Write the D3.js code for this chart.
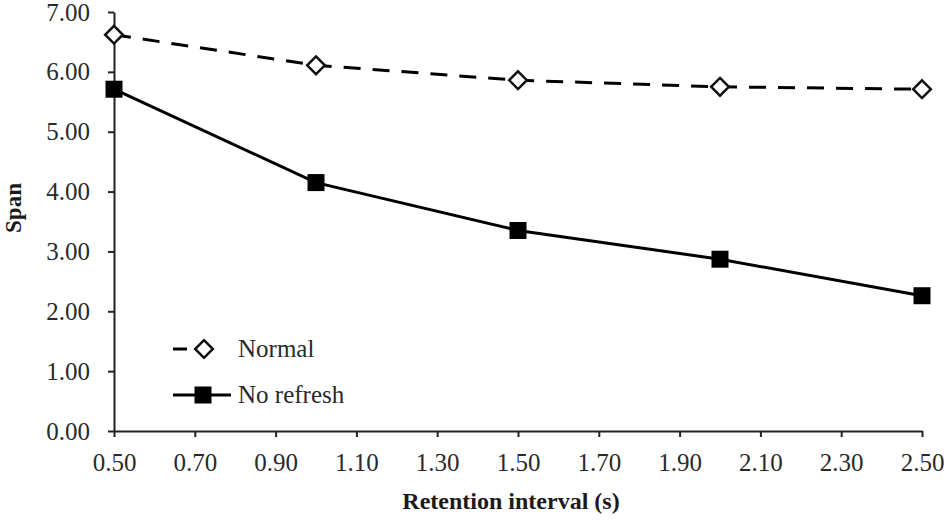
<!DOCTYPE html>
<html>
<head>
<meta charset="utf-8">
<script src="https://cdn.jsdelivr.net/npm/d3@7"></script>
<style>
  body { margin: 0; background: #fff; }
  .axis text { font-family: "Liberation Serif", "Times New Roman", serif; font-size: 25px; fill: #2a2a2a; }
  .axis path, .axis line { stroke: #222; stroke-width: 2px; }
</style>
</head>
<body>
<div id="chart"></div>
<script>
const retention = [0.5, 1.0, 1.5, 2.0, 2.5];
const normalSpan = [6.62, 6.11, 5.86, 5.75, 5.71];
const noRefreshSpan = [5.71, 4.15, 3.35, 2.87, 2.26];
const xTicks = [0.5, 0.7, 0.9, 1.1, 1.3, 1.5, 1.7, 1.9, 2.1, 2.3, 2.5];
const yTicks = [0, 1, 2, 3, 4, 5, 6, 7];

const canvasWidth = 950;
const canvasHeight = 522;
const margin = { top: 12, right: 28, bottom: 91, left: 114 };
const width = canvasWidth - margin.left - margin.right;
const height = canvasHeight - margin.top - margin.bottom;

const svg = d3.select("#chart")
    .append("svg")
    .attr("width", canvasWidth)
    .attr("height", canvasHeight);

const canvas = svg.append("g")
    .attr("transform", `translate(${margin.left},${margin.top})`);

const xScale = d3.scaleLinear().domain([0.5, 2.5]).range([0, width]);
const yScale = d3.scaleLinear().domain([0, 7]).range([height, 0]);

const xAxis = d3.axisBottom(xScale).tickValues(xTicks).tickSize(6).tickSizeOuter(0).tickPadding(16).tickFormat(d3.format(".2f"));
const yAxis = d3.axisLeft(yScale).tickValues(yTicks).tickSize(6).tickSizeOuter(0).tickPadding(18).tickFormat(d3.format(".2f"));

canvas.append("g")
    .attr("class", "axis")
    .attr("transform", `translate(0,${height})`)
    .call(xAxis);

canvas.append("g")
    .attr("class", "axis")
    .call(yAxis);

// axis titles
canvas.append("text")
    .attr("x", width / 2 - 7)
    .attr("y", height + 78)
    .attr("text-anchor", "middle")
    .attr("font-family", "Liberation Serif, serif")
    .attr("font-weight", "bold")
    .attr("font-size", 24)
    .attr("fill", "#1a1a1a")
    .text("Retention interval (s)");

canvas.append("text")
    .attr("transform", `translate(${-93},${196}) rotate(-90)`)
    .attr("text-anchor", "middle")
    .attr("font-family", "Liberation Serif, serif")
    .attr("font-weight", "bold")
    .attr("font-size", 23)
    .attr("fill", "#1a1a1a")
    .text("Span");

const line = d3.line()
    .x((d, i) => xScale(retention[i]))
    .y(d => yScale(d));

// series
canvas.append("path")
    .datum(noRefreshSpan)
    .attr("d", line)
    .attr("fill", "none")
    .attr("stroke", "#000")
    .attr("stroke-width", 3);

canvas.append("path")
    .datum(normalSpan)
    .attr("d", line)
    .attr("fill", "none")
    .attr("stroke", "#000")
    .attr("stroke-width", 3)
    .attr("stroke-dasharray", "17,12");

const diamond = d3.symbol().type(d3.symbolDiamond2).size(200);
const squareSize = 17;

canvas.selectAll(".sq")
    .data(noRefreshSpan)
    .enter()
    .append("rect")
    .attr("class", "sq")
    .attr("x", (d, i) => xScale(retention[i]) - squareSize / 2)
    .attr("y", d => yScale(d) - squareSize / 2)
    .attr("width", squareSize)
    .attr("height", squareSize)
    .attr("fill", "#000");

canvas.selectAll(".dm")
    .data(normalSpan)
    .enter()
    .append("path")
    .attr("class", "dm")
    .attr("d", diamond)
    .attr("transform", (d, i) => `translate(${xScale(retention[i])},${yScale(d)})`)
    .attr("fill", "#fff")
    .attr("stroke", "#111")
    .attr("stroke-width", 2.5);

// legend
const legend = svg.append("g").attr("transform", "translate(173,0)");

legend.append("line")
    .attr("x1", 0).attr("x2", 48).attr("y1", 349).attr("y2", 349)
    .attr("stroke", "#000").attr("stroke-width", 3)
    .attr("stroke-dasharray", "14,10");
legend.append("path")
    .attr("d", diamond)
    .attr("transform", "translate(31,349)")
    .attr("fill", "#fff").attr("stroke", "#111").attr("stroke-width", 2.5);
legend.append("text")
    .attr("x", 65).attr("y", 357)
    .attr("font-family", "Liberation Serif, serif")
    .attr("font-size", 25).attr("fill", "#2a2a2a")
    .text("Normal");

legend.append("line")
    .attr("x1", 0).attr("x2", 58).attr("y1", 395).attr("y2", 395)
    .attr("stroke", "#000").attr("stroke-width", 3);
legend.append("rect")
    .attr("x", 30 - squareSize / 2).attr("y", 395 - squareSize / 2)
    .attr("width", squareSize).attr("height", squareSize)
    .attr("fill", "#000");
legend.append("text")
    .attr("x", 65).attr("y", 403)
    .attr("font-family", "Liberation Serif, serif")
    .attr("font-size", 25).attr("fill", "#2a2a2a")
    .text("No refresh");
</script>
</body>
</html>
